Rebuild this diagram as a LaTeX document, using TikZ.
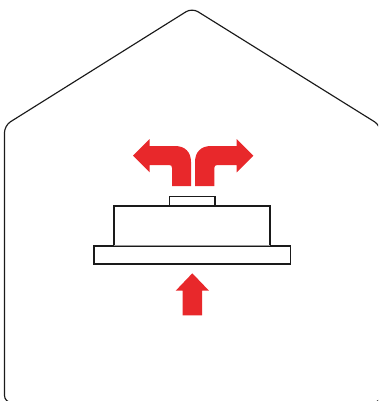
\documentclass[tikz,border=0pt]{standalone}
\definecolor{arrowred}{HTML}{E8282B}
\definecolor{linedark}{HTML}{1A1A1A}
\tikzset{
  redarrow/.style={fill=arrowred,draw=none},
  housewall/.style={draw=linedark,line width=1.15pt,line join=round},
  unitbox/.style={draw=linedark,fill=white,line width=1.7pt,line join=miter},
  capbox/.style={draw=linedark,fill=white,line width=1.3pt,line join=miter}
}
\begin{document}
\begin{tikzpicture}[x=1pt,y=-1pt]
\useasboundingbox (0,0) rectangle (378,401);
\clip (0,0) rectangle (378,401);
% house outline
\draw[housewall,rounded corners=7pt]
  (192,8) -- (380.5,125.5) -- (380.5,402.5) -- (4.5,402.5) -- (4.5,125.5) -- cycle;
% unit
\draw[capbox] (169.5,196.5) rectangle (215,205.7);
\draw[unitbox] (114.3,205.7) -- (114.3,245.7) -- (270,245.7) -- (270,205.7) -- cycle;
\draw[unitbox] (93.8,245.7) rectangle (290.5,264);
\draw[white!55!linedark,line width=0.9pt] (114.3,245.7) -- (270,245.7);
% arrows
\fill[redarrow] (133,155.7) -- (149.7,139) -- (149.7,146) -- (175,146)
  .. controls (185,146) and (191,152) .. (191,162) -- (191,186) -- (172,186)
  -- (172,168) .. controls (172,166) and (171,165) .. (169,165) -- (149.7,165)
  -- (149.7,172.3) -- cycle;
\fill[redarrow] (253.3,155.7) -- (236.7,139) -- (236.7,146) -- (211,146)
  .. controls (201,146) and (195,152) .. (195,162) -- (195,186) -- (214.3,186)
  -- (214.3,168) .. controls (214.3,166) and (215.3,165) .. (217.3,165) -- (236.7,165)
  -- (236.7,172.3) -- cycle;
\fill[redarrow] (192.3,273.3) -- (209,290.7) -- (202,290.7) -- (202,315.3)
  -- (182.7,315.3) -- (182.7,290.7) -- (175.7,290.7) -- cycle;
\end{tikzpicture}
\end{document}
